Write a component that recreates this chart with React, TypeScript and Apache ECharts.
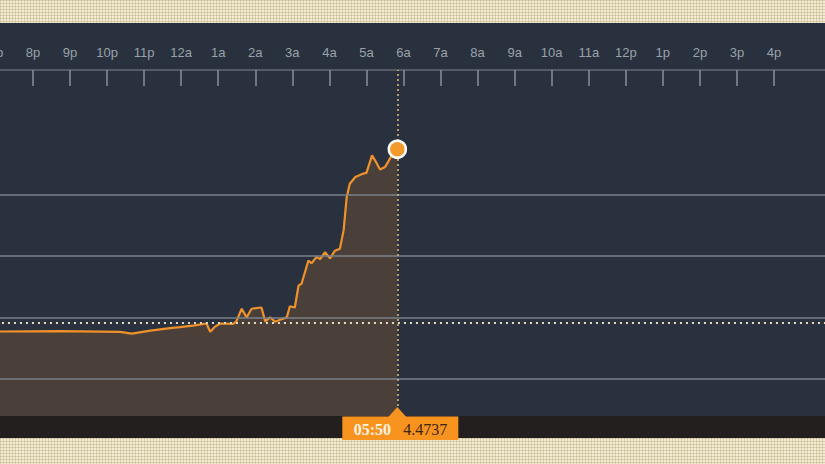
import React, { useEffect, useRef } from "react";
import * as echarts from "echarts";

// minutes after 19:00 (7p)
const times = [0, 104, 201, 220, 250, 282, 298, 322, 341, 347, 355, 363, 384, 389, 398, 406, 414, 430, 436, 444, 452, 460, 471, 476, 484, 490, 495, 506, 511, 519, 525, 533, 541, 549, 557, 563, 568, 573, 582, 595, 600, 609, 614, 622, 630, 635, 644, 650];
const values = [4.4144, 4.4145, 4.4143, 4.4137, 4.4147, 4.4155, 4.4158, 4.4164, 4.417, 4.4143, 4.416, 4.417, 4.4169, 4.4176, 4.4218, 4.419, 4.4218, 4.4222, 4.4177, 4.419, 4.4176, 4.4182, 4.419, 4.4226, 4.4222, 4.4293, 4.43, 4.4375, 4.4366, 4.4386, 4.438, 4.4402, 4.4382, 4.4407, 4.4413, 4.4473, 4.4581, 4.4625, 4.4647, 4.4658, 4.466, 4.4717, 4.4701, 4.4671, 4.4679, 4.4696, 4.4728, 4.4737];
const hourLabels = ["7p", "8p", "9p", "10p", "11p", "12a", "1a", "2a", "3a", "4a", "5a", "6a", "7a", "8a", "9a", "10a", "11a", "12p", "1p", "2p", "3p", "4p"];
const gridValues = [4.399, 4.419, 4.439, 4.459];
const previousClose = 4.4173;
const startHour = 19;

export default function App() {
  const ref = useRef<HTMLDivElement>(null);
  useEffect(() => {
    if (!ref.current) return;
    const chart = echarts.init(ref.current, null, { renderer: "svg" });
    const lastTime = times[times.length - 1];
    const lastValue = values[values.length - 1];
    const hourTicks = hourLabels.map((_, i) => i * 60);
    const option: any = {
      animation: false,
      grid: { left: -4.05, right: 0, top: 70, bottom: 48, containLabel: false, outerBoundsMode: "none" },
      xAxis: {
        type: "value",
        position: "top",
        min: 0,
        max: 1342.6,
        interval: 60,
        axisLine: { show: true, lineStyle: { color: "#636a74", width: 1.5 } },
        axisTick: { show: true, inside: true, length: 16, customValues: hourTicks, lineStyle: { color: "#8a9098", width: 1.5 } },
        axisLabel: {
          show: true,
          customValues: hourTicks,
          margin: 11,
          color: "#9ba1aa",
          fontSize: 13,
          fontFamily: "Liberation Sans, Arial, sans-serif",
          formatter: (v: number) => hourLabels[Math.round(v / 60)] ?? "",
        },
        splitLine: { show: false },
      },
      yAxis: {
        type: "value",
        min: 4.3869,
        max: 4.4995,
        show: false,
        splitLine: { show: false },
      },
      series: [
        {
          type: "line",
          data: times.map((t, i) => [t, values[i]]),
          showSymbol: false,
          lineStyle: { color: "#f0922b", width: 2.2 },
          itemStyle: { color: "#f0922b" },
          areaStyle: { color: "#4a4039", opacity: 1, origin: "start" },
          z: 3,
          markLine: {
            silent: true,
            precision: 6,
            symbol: ["none", "none"],
            label: { show: false },
            z: 6,
            lineStyle: { color: "#7b8088", width: 1.5, type: "solid" },
            data: gridValues.map((v) => ({ yAxis: v })),
          },
        },
        {
          type: "scatter",
          data: [[lastTime, lastValue]],
          symbolSize: 17,
          itemStyle: { color: "#f39a2c", borderColor: "#ffffff", borderWidth: 2.5, opacity: 1 },
          z: 10,
          markLine: {
            silent: true,
            precision: 6,
            symbol: ["none", "none"],
            label: { show: false },
            z: 7,
            data: [
              { yAxis: previousClose, lineStyle: { color: "#e6dcbf", width: 2, type: [2, 4] } },
              { xAxis: lastTime, lineStyle: { color: "#dcb677", width: 1.6, type: [2, 3] } },
            ],
          },
        },
      ],
    };
    chart.setOption(option);
    const [px] = chart.convertToPixel({ gridIndex: 0 }, [lastTime, lastValue]) as number[];
    const totalMin = (startHour * 60 + lastTime) % 1440;
    const hh = String(Math.floor(totalMin / 60)).padStart(2, "0");
    const mm = String(totalMin % 60).padStart(2, "0");
    chart.setOption({
      graphic: [
        {
          type: "polygon",
          shape: { points: [[px - 9, 417], [px, 407], [px + 9, 417]] },
          style: { fill: "#f7931e" },
          z: 20,
        },
        {
          type: "rect",
          shape: { x: px - 55, y: 416.5, width: 116, height: 23.5 },
          style: { fill: "#f7931e" },
          z: 20,
        },
        {
          type: "text",
          x: px - 25,
          y: 429,
          style: {
            text: `${hh}:${mm}`,
            fill: "#fff3e2",
            font: "bold 16px 'Liberation Serif', serif",
            textAlign: "center",
            textVerticalAlign: "middle",
          },
          z: 21,
        },
        {
          type: "text",
          x: px + 28,
          y: 429,
          style: {
            text: lastValue.toFixed(4),
            fill: "#3a2513",
            font: "16px 'Liberation Serif', serif",
            textAlign: "center",
            textVerticalAlign: "middle",
          },
          z: 21,
        },
      ],
    });
    return () => chart.dispose();
  }, []);

  const bg = {
    position: "absolute" as const,
    left: 0,
    top: 0,
    width: 825,
    height: 464,
    backgroundColor: "#f3ecd3",
    backgroundImage:
      "linear-gradient(to bottom, transparent 23px, #28313d 23px, #28313d 416px, #221f1e 416px, #221f1e 438px, transparent 438px)," +
      "linear-gradient(90deg, rgba(170,155,110,0.35) 1px, transparent 1px)," +
      "linear-gradient(rgba(170,155,110,0.35) 1px, transparent 1px)",
    backgroundSize: "825px 464px, 3px 3px, 3px 3px",
  };

  return (
    <div style={bg}>
      <div ref={ref} style={{ width: 825, height: 464 }} />
    </div>
  );
}
